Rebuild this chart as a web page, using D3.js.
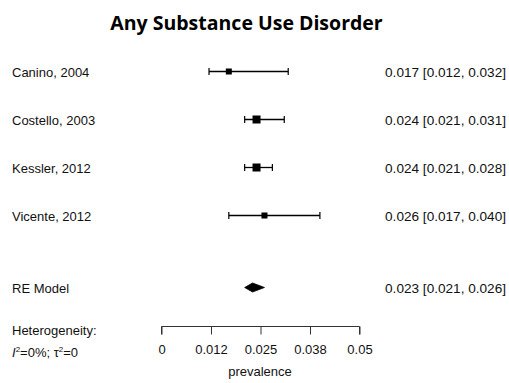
<!DOCTYPE html>
<html>
<head>
<meta charset="utf-8">
<script src="https://cdn.jsdelivr.net/npm/d3@7"></script>
<style>
  body { margin: 0; background: #fff; }
  text { font-family: "Liberation Sans", Arial, sans-serif; fill: #111; }
</style>
</head>
<body>
<script>
const w = 509;
const h = 383;

// study data
const studies = ["Canino, 2004", "Costello, 2003", "Kessler, 2012", "Vicente, 2012"];
const est = [0.017, 0.024, 0.024, 0.026];
const lower = [0.012, 0.021, 0.021, 0.017];
const upper = [0.032, 0.031, 0.028, 0.040];
const weights = [6, 8, 8, 6];   // relative square size
const rows = [5, 4, 3, 2];

// pooled estimate
const reLabel = "RE Model";
const reEst = 0.023, reLower = 0.021, reUpper = 0.026;
const reRow = 0.5;

const tickVals = [0, 0.0125, 0.025, 0.0375, 0.05];
const tickLabels = ["0", "0.012", "0.025", "0.038", "0.05"];

const fmt = d3.format(".3f");

let svg = d3.select("body").append("svg")
    .attr("width", w)
    .attr("height", h);

var x = d3.scaleLinear().domain([0, 0.05]).range([161.5, 359.5]);
var y = d3.scaleLinear().domain([5, 0.5]).range([71.5, 287.5]);

// title
svg.append("text")
    .attr("x", 246.5)
    .attr("y", 30)
    .attr("text-anchor", "middle")
    .style("font-family", "'Open Sans', Lato, sans-serif")
    .style("font-weight", "bold")
    .style("font-size", "19.5px")
    .style("fill", "#000")
    .text("Any Substance Use Disorder");

// study rows
studies.forEach(function (s, i) {
    var yy = y(rows[i]);
    svg.append("text")
        .attr("x", 12).attr("y", yy + 5)
        .style("font-size", "13px")
        .text(s);
    svg.append("line")
        .attr("x1", x(lower[i])).attr("x2", x(upper[i]))
        .attr("y1", yy).attr("y2", yy)
        .attr("stroke", "#000").attr("stroke-width", 1.3);
    [lower[i], upper[i]].forEach(function (v) {
        svg.append("line")
            .attr("x1", x(v)).attr("x2", x(v))
            .attr("y1", yy - 3.5).attr("y2", yy + 3.5)
            .attr("stroke", "#000").attr("stroke-width", 1.2);
    });
    svg.append("rect")
        .attr("x", x(est[i]) - weights[i] / 2)
        .attr("y", yy - weights[i] / 2)
        .attr("width", weights[i]).attr("height", weights[i])
        .attr("fill", "#000");
    svg.append("text")
        .attr("x", 506).attr("y", yy + 5)
        .attr("text-anchor", "end")
        .style("font-size", "13.6px")
        .text(fmt(est[i]) + " [" + fmt(lower[i]) + ", " + fmt(upper[i]) + "]");
});

// RE model diamond
var ry = y(reRow);
svg.append("text")
    .attr("x", 12).attr("y", ry + 5)
    .style("font-size", "13px")
    .text(reLabel);
svg.append("path")
    .attr("d", "M" + x(reLower) + "," + ry +
        "L" + x(reEst) + "," + (ry - 4.5) +
        "L" + x(reUpper) + "," + ry +
        "L" + x(reEst) + "," + (ry + 4.5) + "Z")
    .attr("fill", "#000")
    .attr("stroke", "#000").attr("stroke-width", 0.8).attr("stroke-linejoin", "round");
svg.append("text")
    .attr("x", 506).attr("y", ry + 5)
    .attr("text-anchor", "end")
    .style("font-size", "13.6px")
    .text(fmt(reEst) + " [" + fmt(reLower) + ", " + fmt(reUpper) + "]");

// axis
var axis = d3.axisBottom(x)
    .tickValues(tickVals)
    .tickFormat(function (d, i) { return tickLabels[i]; })
    .tickSize(8)
    .tickPadding(10);
var g = svg.append("g")
    .attr("transform", "translate(0,326.5)")
    .call(axis);
g.select(".domain").attr("d", "M" + x(0) + ",8V0H" + x(0.05) + "V8").attr("stroke", "#333");
g.selectAll(".tick line").attr("stroke", "#333");
g.selectAll("text").style("font-size", "13px").style("font-family", "'Liberation Sans', Arial, sans-serif").attr("fill", "#111");

svg.append("text")
    .attr("x", 260).attr("y", 376)
    .attr("text-anchor", "middle")
    .style("font-size", "13px")
    .text("prevalence");

// heterogeneity
svg.append("text")
    .attr("x", 12).attr("y", 335)
    .style("font-size", "13px")
    .text("Heterogeneity:");
var het = svg.append("text")
    .attr("x", 12).attr("y", 357)
    .style("font-size", "13px");
het.append("tspan").style("font-style", "italic").text("I");
het.append("tspan").attr("dy", -5).style("font-size", "8px").text("2");
het.append("tspan").attr("dy", 5).text("=0%; \u03c4");
het.append("tspan").attr("dy", -5).style("font-size", "8px").text("2");
het.append("tspan").attr("dy", 5).text("=0");
</script>
</body>
</html>
